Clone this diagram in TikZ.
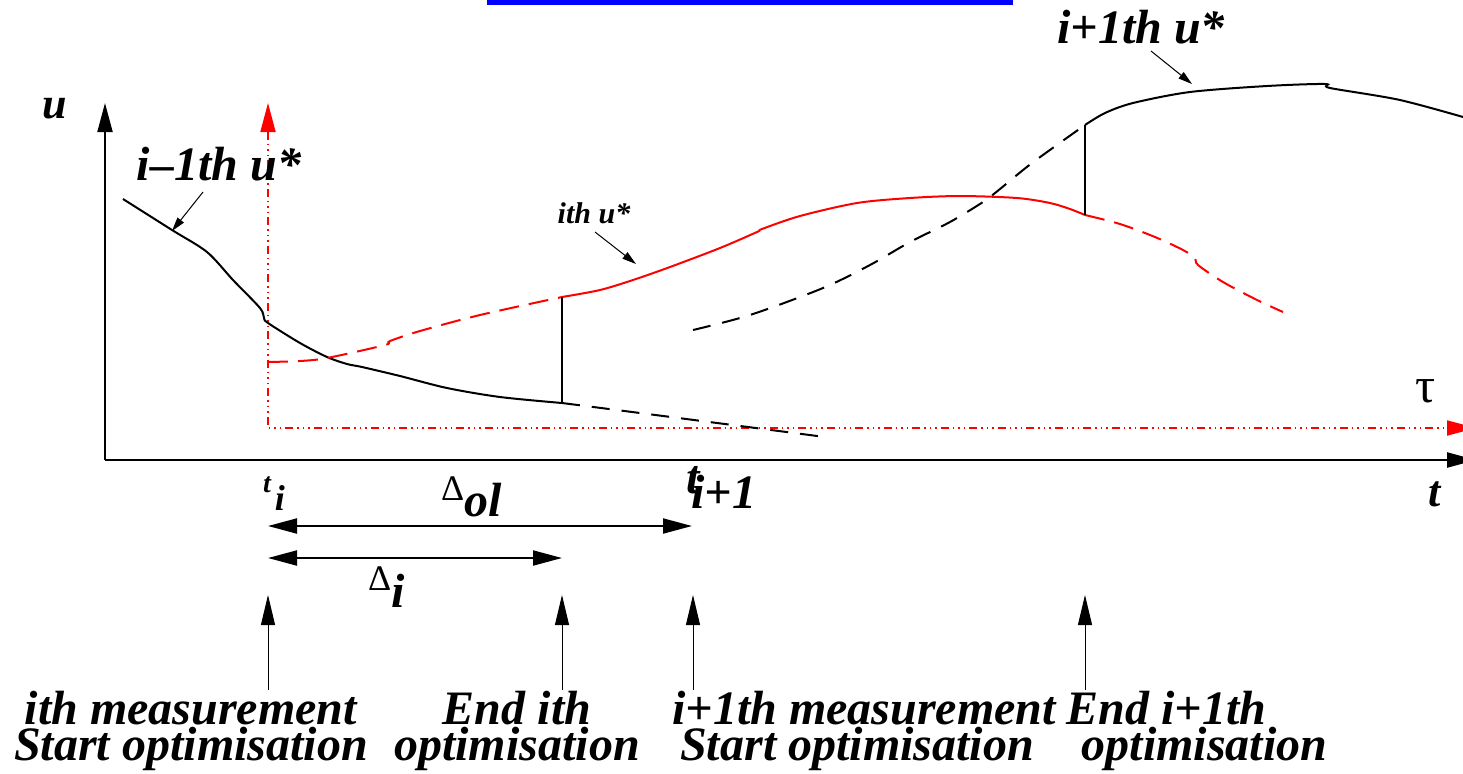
\documentclass[tikz,border=0pt]{standalone}
\usepackage{fontspec}
\setmainfont{Liberation Serif}
\usetikzlibrary{arrows.meta}

\begin{document}
\begin{tikzpicture}[x=0.5pt,y=-0.5pt,line width=1pt,
  big/.style={-{Triangle[length=14.5pt,width=7.5pt]}},
  bigboth/.style={{Triangle[length=14.5pt,width=7.5pt]}-{Triangle[length=14.5pt,width=7.5pt]}},
  upar/.style={line width=0.5pt,-{Triangle[length=15pt,width=7pt]}},
  lead/.style={line width=0.5pt,-{Triangle[length=7pt,width=4pt]}},
  dashdots/.style={dash pattern=on 4pt off 2pt on 0.75pt off 2pt on 0.75pt off 2pt on 0.75pt off 2pt},
  pred/.style={dash pattern=on 9pt off 6pt},
  txt/.style={font=\bfseries\itshape\fontsize{24}{24}\selectfont,inner sep=0pt,anchor=base},
  event/.style={font=\bfseries\itshape\fontsize{24}{18}\selectfont,inner sep=0pt,anchor=north}]
\useasboundingbox (0,0) rectangle (1463,773);
% ================= title bar =================
\fill[blue] (487,0) rectangle (1013,4.5);
% ================= axes =================
\coordinate (O) at (105,460);
\coordinate (uEnd) at (105,103);
\coordinate (tEnd) at (1476,460);
\draw[big] (O) -- (uEnd);
\draw[big,line width=1.2pt] (O) -- (tEnd);
\node[txt,font=\bfseries\itshape\fontsize{22}{22}\selectfont] (uLab) at (55,118) {u};
\node[txt,font=\bfseries\itshape\fontsize{22}{22}\selectfont] (tLab) at (1435,506) {t};
% moving frame (tau) at t_i
\coordinate (tauTop) at (268,103);
\coordinate (tauEnd) at (1476,428);
\draw[red,dashdots,line width=0.9pt,
  {Triangle[length=14.5pt,width=7.5pt]}-{Triangle[length=14.5pt,width=7.5pt]}]
  (tauTop) |- (tauEnd);
\node[anchor=base,inner sep=0pt,font=\fontsize{25}{25}\selectfont] (tauLab) at (1426,402) {τ};
% ================= i-1th solution =================
\draw[smooth,tension=0.5] plot coordinates {(123,199) (172,230) (207,252) (233,280)
  (260,308) (264,318) (268,323) (300,343) (327,357) (347,364) (362,367) (400,376)
  (447,388) (500,397) (562,403)};
\draw[pred,smooth] plot coordinates {(562,403) (640,413) (825,437)};
% ================= ith solution =================
\draw[red,dash pattern=on 10pt off 5pt,smooth,tension=0.5] plot coordinates {(268,362)
  (300,361) (327,358) (385,345) (390,341) (420,331) (480,315) (562,297)};
\draw[red,smooth,tension=0.5] plot coordinates {(562,297) (600,290) (633,280) (670,267)
  (720,248) (757,232) (762,229) (800,216) (857,203) (910,198) (960,196) (1017,198)
  (1050,203) (1070,209) (1085,215)};
\draw[red,dash pattern=on 10pt off 5pt,smooth,tension=0.5] plot coordinates {(1085,215)
  (1120,224) (1155,237) (1183,250) (1195,258) (1198,265) (1223,282) (1257,300) (1283,312)};
\draw (562,297) -- (562,403);
% ================= i+1th solution =================
\draw[pred,smooth,tension=0.5] plot coordinates {(693,330) (750,315) (823,288) (870,265)
  (910,242) (950,222) (983,202) (1000,189) (1032,163) (1085,125)};
\draw[smooth,tension=0.5] plot coordinates {(1085,125) (1105,113) (1133,103) (1190,92)
  (1267,86) (1325,84) (1330,88) (1400,100) (1470,119)};
\draw (1085,125) -- (1085,215);
% ================= curve labels =================
\node[txt] (prevLab) at (219,180) {i–1th u*};
\coordinate (prevFrom) at (203,192);
\coordinate (prevOn) at (172,231);
\draw[lead] (prevFrom) -- (prevOn);
\node[txt,font=\bfseries\itshape\fontsize{15}{15}\selectfont] (curLab) at (594,223) {ith u*};
\coordinate (curFrom) at (595,232);
\coordinate (curOn) at (636,264);
\draw[lead] (curFrom) -- (curOn);
\node[txt] (nextLab) at (1141,43) {i+1th u*};
\coordinate (nextFrom) at (1151,51);
\coordinate (nextOn) at (1192,84);
\draw[lead] (nextFrom) -- (nextOn);
% ================= time marks =================
\node[anchor=base west,inner sep=0pt] (tiLab) at (262,492)
  {\fontsize{14}{14}\selectfont\bfseries\itshape t\hspace{2pt}\raisebox{-9pt}{\fontsize{18}{18}\selectfont i}};
\node[txt,anchor=base west] (ti1Lab) at (685,493) {t\hspace{-4pt}\raisebox{-7.5pt}{i+1}};
\coordinate (olL) at (268,526);
\coordinate (olR) at (692,526);
\draw[bigboth] (olL) -- (olR);
\node[anchor=base west,inner sep=0pt] (olLab) at (440,500)
  {\fontsize{18}{18}\selectfont Δ\raisebox{-8pt}{\fontsize{24}{24}\selectfont\bfseries\itshape ol}};
\coordinate (diL) at (268,558);
\coordinate (diR) at (562,558);
\draw[bigboth] (diL) -- (diR);
\node[anchor=base west,inner sep=0pt] (diLab) at (367,590)
  {\fontsize{18}{18}\selectfont Δ\raisebox{-8.5pt}{\fontsize{24}{24}\selectfont\bfseries\itshape i}};
% ================= events =================
\node[event,align=center] (ev1Lab) at (191,690) {ith measurement\\Start optimisation};
\node[event,align=center] (ev2Lab) at (517,690) {End ith\\optimisation};
\node[event,align=left] (ev3Lab) at (864,690) {i+1th measurement\\\hspace*{4pt}Start optimisation};
\node[event,align=left] (ev4Lab) at (1197,690) {End i+1th\\\hspace*{7.5pt}optimisation};
\coordinate (ev1) at (268,595);
\coordinate (ev2) at (562,595);
\coordinate (ev3) at (693,595);
\coordinate (ev4) at (1085,595);
\draw[upar] (ev1Lab.north -| ev1) -- (ev1);
\draw[upar] (ev2Lab.north -| ev2) -- (ev2);
\draw[upar] (ev3Lab.north -| ev3) -- (ev3);
\draw[upar] (ev4Lab.north -| ev4) -- (ev4);
\end{tikzpicture}
\end{document}
